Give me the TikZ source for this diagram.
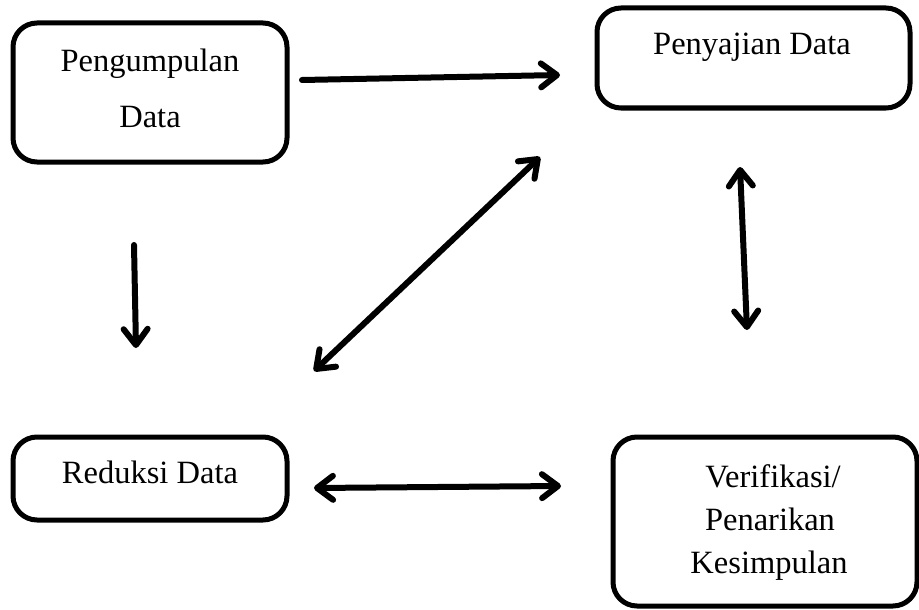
\documentclass[tikz,border=0pt]{standalone}
\usepackage{fontspec}
\setmainfont{Liberation Serif}
\usetikzlibrary{arrows.meta}
\begin{document}
\begin{tikzpicture}[x=1pt,y=-1pt,
  box/.style={draw=black,line width=5pt,rounded corners=24pt,inner sep=0pt},
  lbl/.style={anchor=base,inner sep=0pt,font=\fontsize{32.5}{38}\selectfont},
  conn/.style={line width=6pt,line cap=round,
    arrows={Straight Barb[length=16pt,width=24pt,line cap=round,line join=round]-Straight Barb[length=16pt,width=24pt,line cap=round,line join=round]}},
  oneway/.style={line width=6pt,line cap=round,
    -{Straight Barb[length=16pt,width=24pt,line cap=round,line join=round]}}]
\useasboundingbox (0,0) rectangle (919,610);
% boxes
\node[box,minimum width=274pt,minimum height=139pt] (b1) at (150,92.5) {};
\node[box,minimum width=313pt,minimum height=100pt] (b2) at (753.5,58) {};
\node[box,minimum width=274pt,minimum height=83pt] (b3) at (150,478.5) {};
\node[box,minimum width=304pt,minimum height=169pt] (b4) at (765,521.5) {};
% labels
\node[lbl] (t1a) at (150,72) {Pengumpulan};
\node[lbl] (t1b) at (150,127) {Data};
\node[lbl] (t2) at (752,55) {Penyajian Data};
\node[lbl] (t3) at (150,483) {Reduksi Data};
\node[lbl] (t4a) at (773,487) {Verifikasi/};
\node[lbl] (t4b) at (770,530) {Penarikan};
\node[lbl] (t4c) at (769,573) {Kesimpulan};
% arrow end points
\coordinate (a1s) at (302,80);
\coordinate (a1e) at (560,75);
\coordinate (a2s) at (134,245);
\coordinate (a2e) at (136,348);
\coordinate (a3s) at (314,371);
\coordinate (a3e) at (540,157);
\coordinate (a4s) at (740,167);
\coordinate (a4e) at (747,330);
\coordinate (a5s) at (314,488);
\coordinate (a5e) at (561,486);
% connectors
\draw[oneway] (a1s) -- (a1e);
\draw[oneway] (a2s) -- (a2e);
\draw[conn] (a3s) -- (a3e);
\draw[conn] (a4s) -- (a4e);
\draw[conn] (a5s) -- (a5e);
\end{tikzpicture}
\end{document}
